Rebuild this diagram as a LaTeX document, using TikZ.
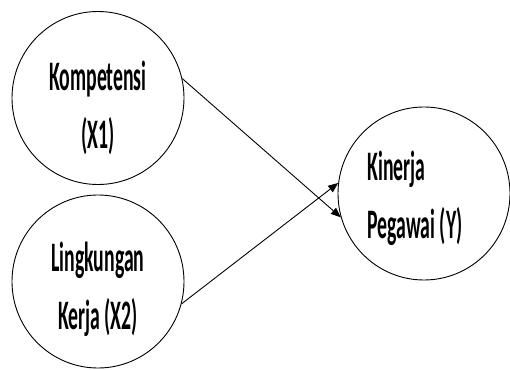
\documentclass[tikz,border=0pt]{standalone}
\usepackage{fontspec}
\usepackage{tikz}
\usetikzlibrary{shapes.geometric,arrows.meta,positioning}
\newfontfamily\lblfont[FakeStretch=0.47]{Carlito}

\begin{document}
\begin{tikzpicture}[
  x=1pt, y=1pt,
  var/.style={draw, ellipse, line width=0.9pt, minimum width=172pt, minimum height=173pt, inner sep=0pt},
  lbl/.style={align=center, font=\lblfont\bfseries\fontsize{42}{58}\selectfont},
  >={Triangle[length=10pt,width=8pt]}
]
\useasboundingbox (0,0) rectangle (510,369);
\node[var] (x1) at (98,271) {};
\node[var] (x2) at (98,87.5) {};
\node[var] (y) at (424,175.5) {};

\node[lbl] (t1) at ([yshift=-10pt]x1) {Kompetensi\\(X1)};
\node[lbl] (t2) at ([yshift=-8pt]x2) {Lingkungan\\Kerja (X2)};
\node[lbl, align=left] (t3) at ([xshift=-9pt,yshift=-5pt]y) {Kinerja\\Pegawai (Y)};

\draw[->, line width=0.9pt] (x1.13) -- (y.196);
\draw[->, line width=0.9pt] (x2.-15) -- (y.173);
\end{tikzpicture}
\end{document}
